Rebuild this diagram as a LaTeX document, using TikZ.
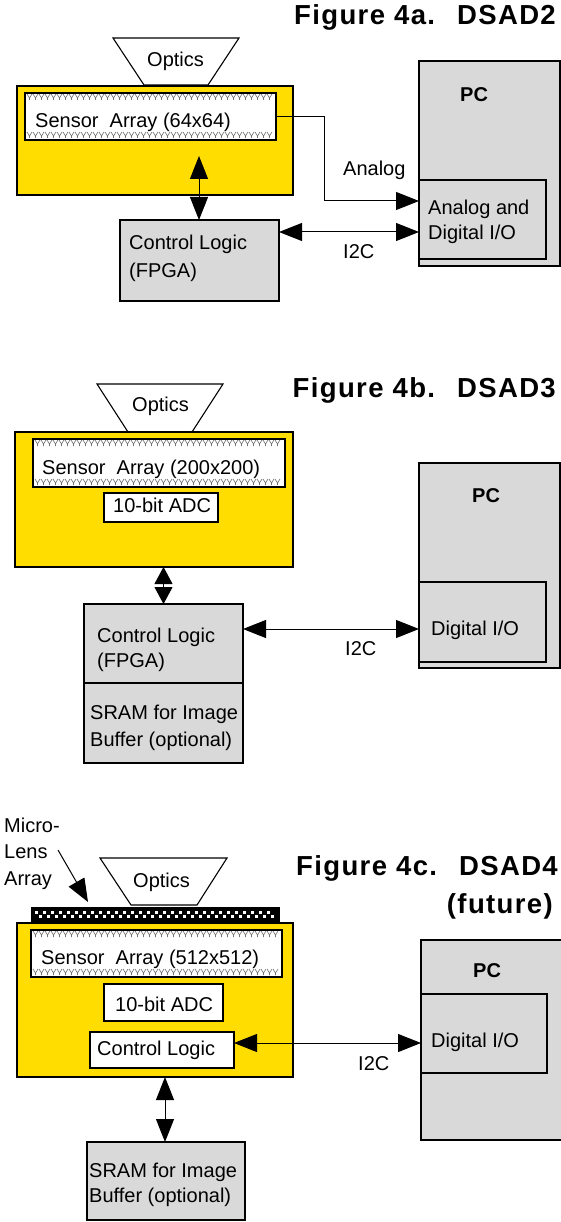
\documentclass[tikz,border=0pt]{standalone}
\usepackage{fontspec}
\setmainfont{Liberation Sans}
\usetikzlibrary{arrows.meta,patterns}
\definecolor{chipyellow}{RGB}{255,221,0}
\definecolor{boxgray}{RGB}{217,217,217}
\newcommand\bx[6]{\node[#6,minimum width=#4pt,minimum height=#5pt,anchor=north west,inner sep=0pt,outer sep=0pt] (#1) at (#2,#3) {};}
\newcommand\sensband[3]{% left x, right x, top y of band
  \foreach \xx in {#1,...,#2}{\draw[senspat] (\xx,#3+1) -- (\xx+2.5,#3+5) -- (\xx+5,#3+1) (\xx+2.5,#3+5) -- (\xx+2.5,#3+7);}}
\begin{document}
\begin{tikzpicture}[x=1pt,y=-1pt,
  font=\fontsize{20}{24}\selectfont,
  ol/.style={draw=black,line width=1.1pt},
  chip/.style={ol,fill=chipyellow},
  grayb/.style={ol,fill=boxgray},
  whiteb/.style={ol,fill=white},
  sens/.style={ol,fill=white},
  senspat/.style={draw=black!55,line width=0.6pt},
  lens/.style={ol,fill=black},
  txt/.style={anchor=base west,inner sep=0pt},
  bold/.style={txt,font=\fontsize{20}{24}\selectfont\bfseries},
  ttl/.style={anchor=base east,inner sep=0pt,font=\fontsize{27.5}{32}\selectfont\bfseries\addfontfeatures{LetterSpace=5}},
  conn/.style={line width=1pt},
  dbl/.style={conn,{Triangle[length=23pt,width=18pt]}-{Triangle[length=23pt,width=18pt]}},
  dbls/.style={conn,{Triangle[length=17pt,width=18pt]}-{Triangle[length=17pt,width=18pt]}},
  sgl/.style={conn,-{Triangle[length=23pt,width=18pt]}},
  optic/.style={ol,fill=white},
]
\useasboundingbox (0,0) rectangle (561,1222);
\fill[white] (0,0) rectangle (561,1222);

% ================= Figure 4a =================
\node[ttl] (t1) at (556,25) {Figure 4a.\hspace{22pt}DSAD2};
\draw[optic] (113,38) -- (239,38) -- (208,85) -- (144,85) -- cycle;
\node[txt] (o1t) at (147,67) {Optics};
\bx{y1}{17}{86}{276}{109}{chip}
\bx{s1}{25}{93}{251}{47}{sens}
\sensband{27,33}{268}{93}
\sensband{27,33}{268}{131}
\draw[ol] (s1.north west) rectangle (s1.south east);
\node[txt] (s1t) at (35,128) {Sensor\ \ Array (64x64)};
\bx{cl1}{120}{220}{159}{81}{grayb}
\node[txt] (cl1a) at (129,250) {Control Logic};
\node[txt] (cl1b) at (129,278) {(FPGA)};
\bx{pc1}{419}{61}{141}{205}{grayb}
\node[bold] (pc1t) at (460,102) {PC};
\bx{io1}{419}{180}{127}{79}{grayb}
\node[txt] (io1a) at (428,215) {Analog and};
\node[txt] (io1b) at (428,240) {Digital I/O};
\coordinate (a1top) at (199,156);
\draw[dbl] (a1top) -- (a1top |- cl1.north);
\coordinate (an1) at (324,117);
\coordinate (an2) at (324,201);
\draw[sgl] (s1.east) -- (s1.east -| an1) -- (an2) -- (an2 -| io1.west);
\node[txt] (an1t) at (343,176) {Analog};
\coordinate (i1) at (300,232);
\draw[dbl] (i1 -| cl1.east) -- (i1 -| io1.west);
\node[txt] (i1t) at (343,259) {I2C};

% ================= Figure 4b =================
\node[ttl] (t2) at (556,397) {Figure 4b.\hspace{22pt}DSAD3};
\draw[optic] (97,384) -- (223,384) -- (192,432) -- (128,432) -- cycle;
\node[txt] (o2t) at (132,411) {Optics};
\bx{y2}{15}{432}{278}{135}{chip}
\bx{s2}{33}{439}{252}{48}{sens}
\sensband{35,41}{277}{439}
\sensband{35,41}{277}{478}
\draw[ol] (s2.north west) rectangle (s2.south east);
\node[txt] (s2t) at (42,474) {Sensor\ \ Array (200x200)};
\bx{adc2}{104}{493}{114}{29}{whiteb}
\node[txt] (adc2t) at (113,512) {10-bit ADC};
\bx{cl2}{84}{604}{159}{79}{grayb}
\node[txt] (cl2a) at (97,642) {Control Logic};
\node[txt] (cl2b) at (97,667) {(FPGA)};
\bx{sr2}{84}{683}{159}{80}{grayb}
\node[txt] (sr2a) at (90,719) {SRAM for Image};
\node[txt] (sr2b) at (90,746) {Buffer (optional)};
\bx{pc2}{419}{463}{141}{205}{grayb}
\node[bold] (pc2t) at (472,502) {PC};
\bx{io2}{419}{582}{127}{80}{grayb}
\node[txt] (io2t) at (431,635) {Digital I/O};
\draw[dbls] (y2.south -| cl2.north) -- (cl2.north);
\coordinate (i2) at (300,629);
\draw[dbl] (i2 -| cl2.east) -- (i2 -| io2.west);
\node[txt] (i2t) at (345,655) {I2C};

% ================= Figure 4c =================
\node[ttl] (t3) at (558,875) {Figure 4c.\hspace{22pt}DSAD4};
\node[ttl] (t3b) at (553,913) {(future)};
\node[txt] (ml1) at (4,832) {Micro-};
\node[txt] (ml2) at (4,858) {Lens};
\node[txt] (ml3t) at (4,885) {Array};
\draw[optic] (100,858) -- (227,858) -- (197,905) -- (131,905) -- cycle;
\node[txt] (o3t) at (133,887) {Optics};
\bx{ml}{32}{908}{247}{13}{lens}
\foreach \xx in {35,43,...,272}{
  \fill[white] (\xx,911) rectangle ++(3,3);
  \fill[white] (\xx+4,915) rectangle ++(3,3);
}
\bx{y3}{17}{923}{276}{154}{chip}
\bx{s3}{31}{930}{251}{47}{sens}
\sensband{33,39}{274}{930}
\sensband{33,39}{274}{968}
\draw[ol] (s3.north west) rectangle (s3.south east);
\node[txt] (s3t) at (41,964) {Sensor\ \ Array (512x512)};
\bx{adc3}{104}{984}{119}{37}{whiteb}
\node[txt] (adc3t) at (115,1011) {10-bit ADC};
\bx{cl3}{90}{1032}{144}{36}{whiteb}
\node[txt] (cl3t) at (97,1055) {Control Logic};
\bx{sr3}{87}{1142}{158}{78}{grayb}
\node[txt] (sr3a) at (89,1177) {SRAM for Image};
\node[txt] (sr3b) at (89,1202) {Buffer (optional)};
\bx{pc3}{421}{940}{142}{200}{grayb}
\node[bold] (pc3t) at (473,977) {PC};
\bx{io3}{421}{994}{126}{79}{grayb}
\node[txt] (io3t) at (431,1047) {Digital I/O};
\coordinate (mla) at (58,850);
\coordinate (mlb) at (88,902);
\draw[sgl] (mla) -- (mlb);
\coordinate (v3) at (165,1100);
\draw[dbl] (v3 |- y3.south) -- (v3 |- sr3.north);
\coordinate (i3) at (300,1043);
\draw[dbl] (i3 -| cl3.east) -- (i3 -| io3.west);
\node[txt] (i3t) at (358,1070) {I2C};
\end{tikzpicture}
\end{document}
